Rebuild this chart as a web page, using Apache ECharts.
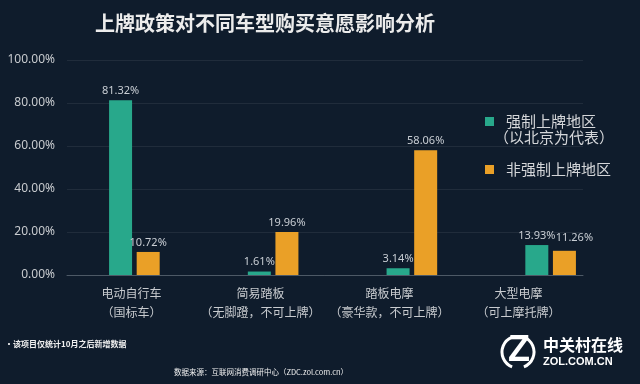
<!DOCTYPE html>
<html>
<head>
<meta charset="utf-8">
<style>
html,body{margin:0;padding:0;background:#0f1c2c;}
#main{width:640px;height:384px;}
</style>
<script src="https://cdn.jsdelivr.net/npm/echarts@6/dist/echarts.min.js"></script>
</head>
<body>
<div id="main"></div>
<script>
var categories = ['电动自行车\n（国标车）', '简易踏板\n（无脚蹬，不可上牌）', '踏板电摩\n（豪华款，不可上牌）', '大型电摩\n（可上摩托牌）'];
var forcedValues = [81.32, 1.61, 3.14, 13.93];
var nonForcedValues = [10.72, 19.96, 58.06, 11.26];
var yTicks = [0, 20, 40, 60, 80, 100];
var seriesNames = ['强制上牌地区', '非强制上牌地区'];

var CJK = '"Noto Sans CJK SC", "Noto Sans", sans-serif';
var chart = echarts.init(document.getElementById('main'), null, {renderer: 'canvas'});

var labelStyle = {
  show: true, position: 'top', distance: 4,
  color: '#c9ced4', fontSize: 11, fontFamily: '"Noto Sans", sans-serif',
  formatter: function (p) { return p.value.toFixed(2) + '%'; }
};

chart.setOption({
  backgroundColor: '#0f1c2c',
  animation: false,
  title: {
    text: '上牌政策对不同车型购买意愿影响分析',
    left: 90, top: 8,
    textStyle: {color: '#ececec', fontSize: 20, fontWeight: 'bold', fontFamily: CJK}
  },
  legend: {
    orient: 'vertical', left: 480, top: 109,
    itemWidth: 9, itemHeight: 9, icon: 'rect', itemGap: 33,
    data: seriesNames,
    textStyle: {color: '#d4d6d9', fontSize: 15, fontFamily: CJK, padding: [0, 0, 0, 7]}
  },
  grid: [
    {left: 67, right: 57, top: 60, bottom: 109},
    {left: 65, right: 20, top: 60, bottom: 109}
  ],
  xAxis: [
    {
      type: 'category', gridIndex: 0, data: categories,
      axisLine: {lineStyle: {color: '#4d5966', width: 1}},
      axisTick: {show: false},
      axisLabel: {color: '#c8cbcf', fontSize: 12, lineHeight: 19, margin: 9, fontFamily: CJK, interval: 0}
    },
    {
      type: 'category', gridIndex: 1, data: categories,
      axisLine: {show: false}, axisTick: {show: false}, axisLabel: {show: false}
    }
  ],
  yAxis: [
    {
      type: 'value', gridIndex: 0, min: yTicks[0], max: yTicks[yTicks.length - 1], interval: 20,
      axisLine: {show: false}, axisTick: {show: false},
      splitLine: {lineStyle: {color: '#202c3b', width: 1}},
      axisLabel: {
        color: '#c8cbcf', fontSize: 12, margin: 12, fontFamily: '"Noto Sans", sans-serif',
        formatter: function (v) { return v.toFixed(2) + '%'; }
      }
    },
    {
      type: 'value', gridIndex: 1, min: yTicks[0], max: yTicks[yTicks.length - 1], interval: 20,
      axisLine: {show: false}, axisTick: {show: false}, splitLine: {show: false}, axisLabel: {show: false}
    }
  ],
  series: [
    {
      name: seriesNames[0], type: 'bar', xAxisIndex: 1, yAxisIndex: 1,
      data: forcedValues, barWidth: 23, barGap: '20%',
      itemStyle: {color: '#28a88b'},
      label: labelStyle
    },
    {
      name: seriesNames[1], type: 'bar', xAxisIndex: 1, yAxisIndex: 1,
      data: nonForcedValues, barWidth: 23, barGap: '20%',
      itemStyle: {color: '#eaa027'},
      label: labelStyle,
      labelLayout: function (params) {
        if (params.dataIndex === 3) {
          return {dx: 10, dy: -3};
        }
        return {};
      }
    }
  ],
  graphic: [
    {
      type: 'text', left: 494, top: 130,
      style: {text: '（以北京为代表）', fill: '#d4d6d9', fontSize: 15, fontFamily: CJK}
    },
    {
      type: 'text', left: 5, top: 340,
      style: {text: '•该项目仅统计10月之后新增数据', fill: '#f0f0f0', fontSize: 8, fontWeight: 'bold', fontFamily: CJK}
    },
    {
      type: 'text', x: 261, y: 372,
      style: {text: '数据来源：互联网消费调研中心（ZDC.zol.com.cn）', fill: '#f0f0f0', fontSize: 7.5, fontFamily: CJK, align: 'center', verticalAlign: 'middle'}
    },
    {
      type: 'text', left: 543, top: 337,
      style: {text: '中关村在线', fill: '#ffffff', fontSize: 16, fontWeight: 'bold', fontFamily: CJK}
    },
    {
      type: 'text', left: 543, top: 356,
      style: {text: 'ZOL.COM.CN', fill: '#ffffff', fontSize: 11, fontWeight: 'bold', fontFamily: '"Liberation Sans", sans-serif'}
    },
    {
      type: 'text', left: 508, top: 333,
      style: {text: 'Z', fill: '#ffffff', fontSize: 36, fontWeight: 'bold', fontFamily: '"Liberation Sans", sans-serif'}
    },
    {
      type: 'arc', shape: {cx: 518, cy: 352, r: 16, startAngle: Math.PI * 0.62, endAngle: Math.PI * 1.38},
      style: {stroke: '#ffffff', lineWidth: 3, fill: null}
    },
    {
      type: 'arc', shape: {cx: 518, cy: 352, r: 16, startAngle: -Math.PI * 0.38, endAngle: Math.PI * 0.38},
      style: {stroke: '#ffffff', lineWidth: 3, fill: null}
    }
  ]
});
</script>
</body>
</html>
